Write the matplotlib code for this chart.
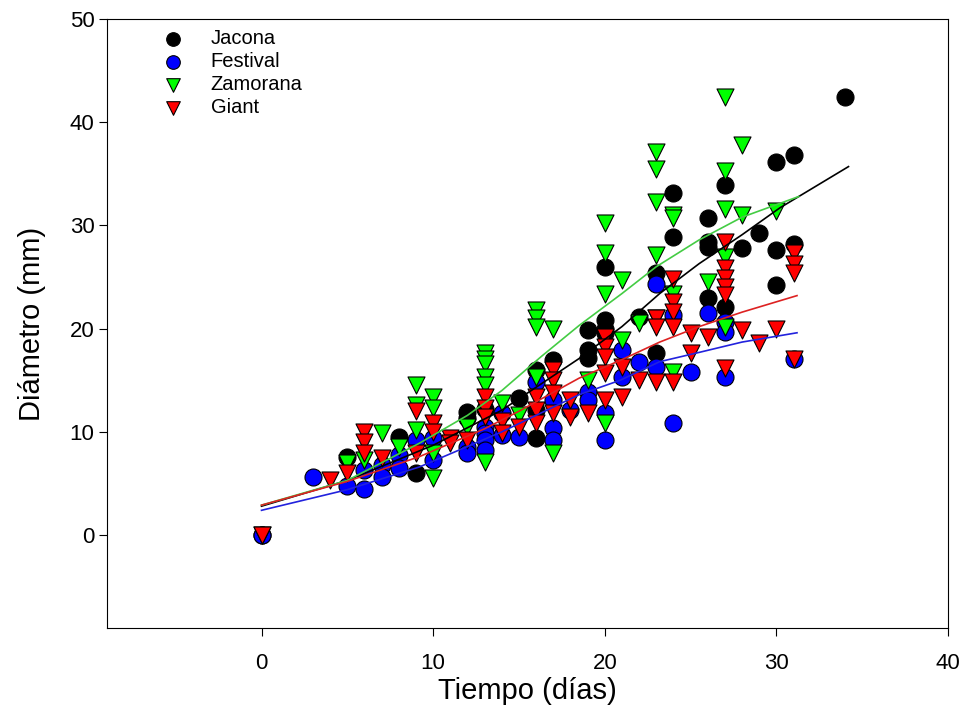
import numpy as np
import matplotlib
matplotlib.use("Agg")
from matplotlib import pyplot as plt

plt.rcParams['font.family'] = ['Liberation Sans', 'DejaVu Sans']

# Jacona (black circles)
jac_x = [0, 5, 8, 9, 12, 12, 13, 15, 16, 16, 16, 17, 19, 19, 19, 20, 20, 20, 20,
         22, 23, 23, 24, 24, 26, 26, 26, 26, 27, 27, 28, 29, 30, 30, 30, 31, 31, 34]
jac_y = [0, 7.6, 9.5, 6.0, 11.9, 11.3, 12.2, 13.3, 16.0, 12.1, 9.4, 17.0, 19.9, 17.9, 17.2,
         26.0, 20.8, 20.0, 19.6, 21.1, 25.4, 17.6, 33.1, 28.9, 30.7, 28.4, 27.9, 23.0,
         33.9, 22.1, 27.8, 29.3, 36.1, 27.6, 24.2, 36.8, 28.2, 42.4]

# Festival (blue circles)
fes_x = [0, 3, 5, 6, 6, 7, 7, 8, 8, 9, 10, 10, 12, 12, 13, 13, 13, 13, 14, 14, 15,
         16, 17, 17, 17, 18, 19, 19, 20, 20, 21, 21, 22, 23, 23, 24, 24, 25, 26,
         27, 27, 27, 31]
fes_y = [0, 5.6, 4.8, 6.3, 4.5, 6.8, 5.6, 7.8, 6.5, 9.2, 9.4, 7.3, 8.5, 8.0, 10.5, 9.9,
         9.2, 8.2, 11.8, 9.7, 9.5, 14.8, 13.1, 10.4, 9.2, 12.1, 13.9, 13.1, 11.8, 9.2,
         17.9, 15.3, 16.8, 24.3, 16.3, 21.3, 10.9, 15.8, 21.5, 20.6, 19.7, 15.3, 17.1]

# Zamorana (green triangles)
zam_x = [0, 5, 6, 7, 8, 9, 9, 9, 10, 10, 10, 10, 12, 13, 13, 13, 13, 13, 13, 14, 15,
         16, 16, 16, 16, 17, 17, 19, 20, 20, 20, 20, 21, 21, 22, 23, 23, 23, 23, 23,
         24, 24, 24, 24, 26, 27, 27, 27, 27, 27, 28, 28, 30]
zam_y = [0, 7.0, 7.3, 9.9, 8.5, 14.5, 12.6, 10.2, 13.4, 12.3, 8.0, 5.5, 10.5, 17.6, 17.1,
         16.6, 15.3, 14.5, 7.1, 12.8, 11.6, 21.8, 21.0, 20.2, 15.3, 20.0, 8.0, 15.0,
         30.2, 27.3, 23.4, 10.9, 24.7, 18.9, 20.5, 37.1, 35.5, 32.3, 27.1, 21.0, 31.0,
         30.7, 23.4, 15.8, 24.5, 42.4, 35.3, 31.6, 26.9, 20.2, 37.8, 31.0, 31.4]

# Giant (red triangles)
gia_x = [0, 4, 5, 6, 6, 6, 7, 9, 9, 10, 10, 11, 11, 12, 13, 13, 13, 14, 14, 15, 16,
         16, 16, 17, 17, 17, 17, 18, 18, 19, 20, 20, 20, 20, 20, 21, 21, 22, 23, 23,
         23, 24, 24, 24, 24, 24, 25, 25, 26, 27, 27, 27, 27, 27, 27, 28, 29, 30, 31,
         31, 31, 31]
gia_y = [0, 5.3, 6.0, 10.0, 9.0, 8.0, 7.5, 12.0, 8.0, 10.9, 10.0, 9.4, 8.9, 9.2, 13.4,
         12.3, 11.4, 11.1, 9.9, 10.5, 13.4, 12.1, 10.9, 16.0, 15.0, 13.8, 11.8, 13.1,
         11.4, 11.8, 19.2, 18.2, 17.3, 15.7, 13.1, 16.3, 13.4, 15.0, 21.0, 20.2, 14.8,
         24.8, 22.6, 21.6, 20.2, 14.8, 19.6, 17.6, 19.2, 28.4, 25.9, 24.9, 24.0, 23.3,
         16.2, 19.9, 18.6, 20.0, 27.3, 26.3, 25.4, 17.1]

# fitted curves
jac_fx = [0, 5, 10, 14, 18.5, 21, 23.2, 25.5, 28, 30.2, 34.2]
jac_fy = [2.8, 5.3, 8.7, 12.1, 17.1, 20.2, 23.4, 26.3, 29.1, 31.7, 35.7]
fes_fx = [0, 5, 9.2, 14, 18.5, 20.9, 23.2, 25.5, 28, 31.2]
fes_fy = [2.4, 4.4, 6.6, 10.0, 13.6, 15.0, 16.8, 17.7, 18.7, 19.6]
zam_fx = [0, 5, 9.2, 12, 14, 16.3, 18.5, 21, 23, 25.5, 28, 31.3]
zam_fy = [2.9, 5.3, 8.9, 11.6, 14.0, 17.3, 20.3, 23.4, 26.0, 28.6, 30.8, 32.8]
gia_fx = [0, 5, 9.2, 13, 15, 18.5, 21, 23.2, 25.5, 28, 31.2]
gia_fy = [2.9, 5.2, 7.6, 10.3, 12.0, 15.2, 17.0, 18.7, 20.2, 21.6, 23.2]

fig = plt.figure(figsize=(9.67, 7.28), dpi=100)
ax = fig.add_axes([0.1107, 0.1374, 0.8697, 0.8365])

ms = 150
ax.scatter(jac_x, jac_y, s=ms, c='black', edgecolors='black', linewidths=0.8,
           marker='o', label='Jacona', zorder=3)
ax.scatter(fes_x, fes_y, s=ms, c='#0000ff', edgecolors='black', linewidths=0.8,
           marker='o', label='Festival', zorder=3)
ax.scatter(zam_x, zam_y, s=ms, c='#00ff00', edgecolors='black', linewidths=0.8,
           marker='v', label='Zamorana', zorder=3)
ax.scatter(gia_x, gia_y, s=ms, c='#ff0000', edgecolors='black', linewidths=0.8,
           marker='v', label='Giant', zorder=3)

ax.plot(jac_fx, jac_fy, color='black', lw=1.2, zorder=4)
ax.plot(fes_fx, fes_fy, color='#2222dd', lw=1.2, zorder=4)
ax.plot(zam_fx, zam_fy, color='#44cc44', lw=1.2, zorder=4)
ax.plot(gia_fx, gia_fy, color='#dd2222', lw=1.2, zorder=4)

ax.set_xlim(-9, 40)
ax.set_ylim(-9, 50)
ax.set_xticks([0, 10, 20, 30, 40])
ax.set_yticks([0, 10, 20, 30, 40, 50])
ax.tick_params(direction='out', length=6, labelsize=16, top=False, right=False)
ax.tick_params(axis='x', pad=12)
ax.tick_params(axis='y', pad=3)
ax.set_xlabel('Tiempo (días)', fontsize=21, labelpad=2)
ax.set_ylabel('Diámetro (mm)', fontsize=21, labelpad=17)

ax.legend(loc='upper left', bbox_to_anchor=(0.03, 1.017), frameon=False, fontsize=14.5,
          handletextpad=0.9, labelspacing=0.2, markerscale=0.8, borderpad=0.5)

fig.savefig('out.png', dpi=100)
